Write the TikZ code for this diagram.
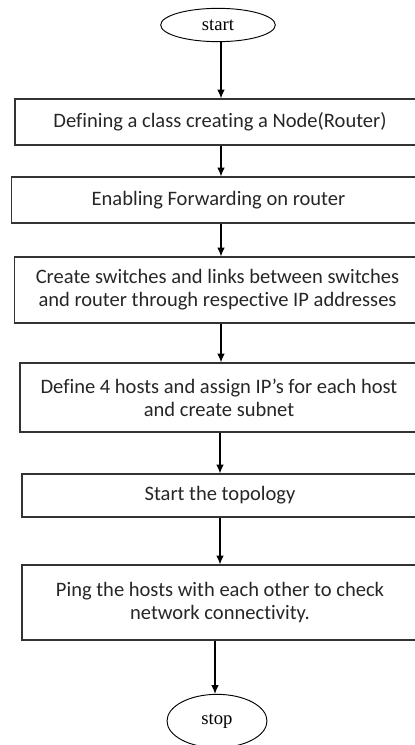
\documentclass[tikz,border=0pt]{standalone}
\usepackage{fontspec}
\setmainfont{Carlito}[Ligatures=NoCommon]
\newfontfamily\termfont{Liberation Serif}
\usetikzlibrary{
    arrows.meta,
    shapes.geometric,
    calc
}
\newcommand{\stepfont}{\fontsize{15.4}{17.25}\selectfont}

\begin{document}
\begin{tikzpicture}[x=0.75pt, y=-0.75pt,
    process/.style={draw=black!80, line width=0.9pt, rectangle, align=center, font=\stepfont, text=black!85},
    terminal/.style={draw=black, line width=0.7pt, ellipse, inner sep=0pt, font=\termfont\fontsize{14}{15}\selectfont},
    flow/.style={-{Latex[length=6.5pt, width=5.5pt]}, line width=0.8pt}]
    \useasboundingbox (0, 0) rectangle (414, 745);
    \node[terminal, minimum width=86pt, minimum height=25pt] (start) at (218, 25) {start};
    \node[process, minimum width=307.5pt, minimum height=34.5pt] (cls) at (220, 122) {Defining a class creating a Node(Router)};
    \node[process, minimum width=310pt, minimum height=34.5pt] (fwd) at (218.5, 200) {Enabling Forwarding on router};
    \node[process, minimum width=304pt, minimum height=49.5pt] (sw) at (217.5, 290) {Create switches and links between switches\\and router through respective IP addresses};
    \node[process, minimum width=298.5pt, minimum height=51.75pt] (hosts) at (219, 397.5) {Define 4 hosts and assign IP’s for each host\\and create subnet};
    \node[process, minimum width=297pt, minimum height=32.25pt] (topo) at (220, 495.5) {Start the topology};
    \node[process, minimum width=297pt, minimum height=56.25pt] (ping) at (220, 602.5) {Ping the hosts with each other to check\\network connectivity.};
    \node[terminal, minimum width=75pt, minimum height=40pt] (stop) at (217, 721) {stop};
    % arrows between the steps
    \draw[flow] (start.south -| 221, 0) -- (cls.north -| 221, 0);
    \draw[flow] (cls.south -| 221, 0) -- (fwd.north -| 221, 0);
    \draw[flow] (fwd.south -| 221, 0) -- (sw.north -| 221, 0);
    \draw[flow] (sw.south -| 221, 0) -- (hosts.north -| 221, 0);
    \draw[flow] (hosts.south -| 220, 0) -- (topo.north -| 220, 0);
    \draw[flow] (topo.south -| 220, 0) -- (ping.north -| 220, 0);
    \draw[flow] (ping.south -| 215, 0) -- (stop.north -| 215, 0);
\end{tikzpicture}
\end{document}
